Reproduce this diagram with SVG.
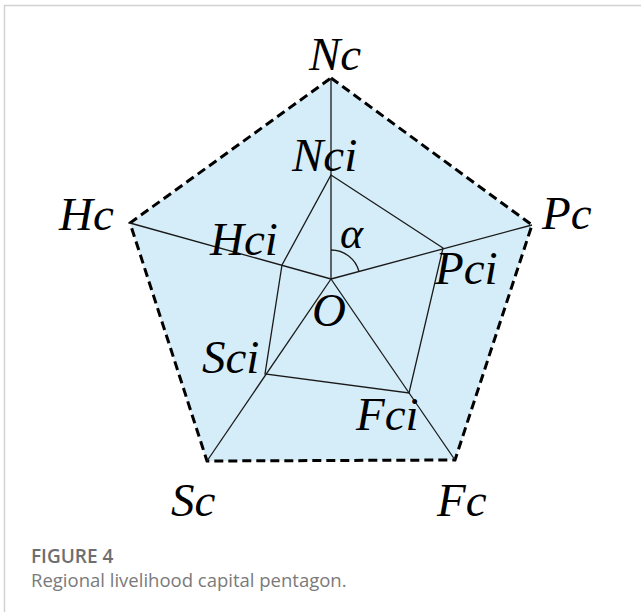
<svg xmlns="http://www.w3.org/2000/svg" width="641" height="612" viewBox="0 0 641 612">
  <style>
    .lbl { font-family: "Liberation Serif", "Times New Roman", serif; font-style: italic; font-size: 47px; fill: #000; }
    .thin { stroke: #1a1a1a; stroke-width: 1.3; fill: none; }
    .cap1 { font-family: "Open Sans", "Noto Sans", sans-serif; font-weight: 600; font-size: 19px; fill: #6e6e6e; }
    .cap2 { font-family: "Open Sans", "Noto Sans", sans-serif; font-size: 18.5px; fill: #7a7a7a; }
  </style>
  <rect width="641" height="612" fill="#fff"/>
  <path d="M4.5,612 V5.5 H641" fill="none" stroke="#d2d2d2" stroke-width="1.5"/>

  <g id="outer-pentagon">
    <polygon points="331,78 532,225 455,460 207,461 130,223" fill="#d5edf8" stroke="#000" stroke-width="3" stroke-dasharray="9 5" stroke-linejoin="miter"/>
  </g>

  <g id="connectors">
    <line class="thin" x1="331" y1="279" x2="331" y2="78"/>
    <line class="thin" x1="331" y1="279" x2="532" y2="225"/>
    <line class="thin" x1="331" y1="279" x2="455" y2="460"/>
    <line class="thin" x1="331" y1="279" x2="207" y2="461"/>
    <line class="thin" x1="331" y1="279" x2="130" y2="223"/>
    <polygon class="thin" points="331,175 443,248 409,393 265,374 282,265"/>
    <path class="thin" d="M331,250 A29,29 0 0 1 359,271.5"/>
  </g>

  <g id="Nc"><text class="lbl" x="309" y="70">Nc</text></g>
  <g id="Hc"><text class="lbl" x="59" y="230">Hc</text></g>
  <g id="Pc"><text class="lbl" x="542" y="229">Pc</text></g>
  <g id="Sc"><text class="lbl" x="171" y="516">Sc</text></g>
  <g id="Fc"><text class="lbl" x="437" y="516">Fc</text></g>
  <g id="Nci"><text class="lbl" x="292" y="171">Nci</text></g>
  <g id="Hci"><text class="lbl" x="210" y="255">Hci</text></g>
  <g id="Pci"><text class="lbl" x="435" y="284">Pci</text></g>
  <g id="Sci"><text class="lbl" x="202" y="373">Sci</text></g>
  <g id="Fci"><text class="lbl" x="356" y="430">Fci</text></g>
  <g id="O"><text class="lbl" x="312" y="326">O</text></g>
  <g id="alpha"><text class="lbl" x="340" y="248" style="font-size:44px">α</text></g>

  <g id="caption">
    <text class="cap1" x="31" y="563">FIGURE 4</text>
    <text class="cap2" x="31" y="587">Regional livelihood capital pentagon.</text>
  </g>
</svg>
